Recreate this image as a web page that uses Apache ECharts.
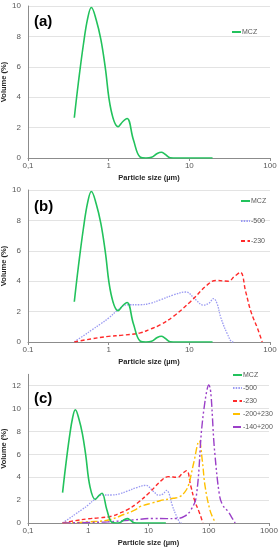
<!DOCTYPE html>
<html><head><meta charset="utf-8">
<script src="https://cdn.jsdelivr.net/npm/echarts@6/dist/echarts.min.js"></script>
<style>html,body{margin:0;padding:0;background:#fff}#c{width:280px;height:550px}</style>
</head><body><div id="c"></div>
<script>
// ---- data (particle size in µm, volume in %) ----
const mczSize  = [0.375,0.42,0.487,0.55,0.61,0.7,0.8,0.905,1.07,1.31,1.5,1.69,2.03,2.47,2.9,3.4,4.0,4.5,5.0,5.8,7,10,19.4];
const mczVol   = [2.65,4.9,7.5,9.2,9.9,9.1,7.8,6.0,3.16,2.06,2.4,2.6,1.18,0.05,0,0.05,0.3,0.38,0.25,0.02,0,0,0];
const m500Size = [0.375,0.5,0.62,0.8,1.0,1.3,1.7,2.47,3.3,4.4,6.4,9,12,14.8,17.5,20,22,24.6,29.8,34.4,36];
const m500Vol  = [0.02,0.45,0.8,1.2,1.58,2.1,2.45,2.45,2.55,2.78,3.1,3.29,2.78,2.43,2.55,2.85,2.55,1.6,0.5,0,0];
const m230Size = [0.375,0.6,1.0,1.5,2.47,3.3,4.4,6.4,10.4,16.8,21.3,30.5,36,42.9,50,58,70,80];
const m230Vol  = [0,0.2,0.37,0.45,0.6,0.85,1.14,1.7,2.67,3.77,4.05,4.0,4.3,4.58,3.3,2.0,0.9,0];
const f200Size = [0.375,0.6,1,2.15,4.1,6,7.2,12,15.5,25.8,33,40,46,56,69.5,78,87,105,120,132];
const f200Vol  = [0,0.03,0.1,0.26,0.79,1.14,1.43,1.78,1.95,2.16,2.3,2.7,3.3,5.2,7.17,5.5,3.2,1.1,0.35,0];
const f140Size = [0.375,1,2.1,5.3,12,20,30,40,50,62,79,100,126,150,170,210,240,274];
const f140Vol  = [0,0.05,0.1,0.26,0.4,0.38,0.4,0.6,1.1,2.3,9,12.06,6.1,2.5,1.57,1.0,0.5,0];
const panelLabels = ['(a)','(b)','(c)'];
const seriesNames = ['MCZ','-500','-230','-200+230','-140+200'];
const yTicksAB = [0,2,4,6,8,10];
const yTicksC  = [0,2,4,6,8,10,12];

const pairs = (xs, ys) => xs.map((x, i) => [x, ys[i]]);
const styles = {
  'MCZ':      {color:'#22c25c', width:1.6, type:'solid'},
  '-500':     {color:'#9a9af2', width:1.3, type:[1.5,1.2]},
  '-230':     {color:'#ff2a2a', width:1.4, type:[4,2.5]},
  '-200+230': {color:'#ffc000', width:1.4, type:[7,2.5,2,2.5]},
  '-140+200': {color:'#9b40c8', width:1.4, type:[8,2.5,2,2.5,2,2.5]}
};
const dataByName = {
  'MCZ': pairs(mczSize, mczVol),
  '-500': pairs(m500Size, m500Vol),
  '-230': pairs(m230Size, m230Vol),
  '-200+230': pairs(f200Size, f200Vol),
  '-140+200': pairs(f140Size, f140Vol)
};

const grids = [
  {left:28, right:10, top:6, height:152, outerBoundsMode:'none', containLabel:false},
  {left:28, right:10, top:190, height:152, outerBoundsMode:'none', containLabel:false},
  {left:28, right:11, top:374.3, height:148.7, outerBoundsMode:'none', containLabel:false}
];
const xMax = [100,100,1000];
const commaDec = [true,false,true];
const FF = 'Liberation Sans, Arial, sans-serif';
const axisFont = {fontFamily:FF, fontSize:8, color:'#595959'};
const nameFont = {fontFamily:FF, fontSize:7.5, fontWeight:'bold', color:'#262626'};

const xAxes = grids.map((g, i) => ({
  type:'log', logBase:10, gridIndex:i, min:0.1, max:xMax[i],
  name:'Particle size (µm)', nameLocation:'middle', nameGap:16, nameTextStyle:nameFont, nameMoveOverlap:false,
  axisLine:{show:true, onZero:false, lineStyle:{color:'#8c8c8c', width:1}},
  axisTick:{show:true, length:3, lineStyle:{color:'#8c8c8c'}},
  minorTick:{show:false}, splitLine:{show:false},
  axisLabel:Object.assign({margin:4, formatter:v => (v < 0.5 ? (commaDec[i] ? '0,1' : '0.1') : String(Math.round(v)))}, axisFont)
}));
const yAxes = grids.map((g, i) => ({
  type:'value', gridIndex:i, min:0, max:(i === 2 ? 13 : 10), interval:2,
  name:'Volume (%)', nameLocation:'middle', nameGap:20, nameTextStyle:nameFont, nameMoveOverlap:false,
  axisLine:{show:true, lineStyle:{color:'#8c8c8c', width:1}},
  axisTick:{show:false},
  splitLine:{show:true, showMaxLine:(i !== 2), lineStyle:{color:'#e3e3e3', width:1}},
  axisLabel:Object.assign({margin:7, showMaxLabel:(i !== 2),
    formatter:v => ((i === 2 ? yTicksC : yTicksAB).indexOf(v) >= 0 ? String(v) : '')}, axisFont)
}));

const panelSeries = [['MCZ'], ['MCZ','-500','-230'], seriesNames];
const series = [];
panelSeries.forEach((names, p) => {
  names.forEach(n => {
    const s = styles[n];
    series.push({
      name:n, type:'line', xAxisIndex:p, yAxisIndex:p, data:dataByName[n],
      smooth:0.4, symbol:'none', showSymbol:false,
      lineStyle:{color:s.color, width:s.width, type:s.type}, itemStyle:{color:s.color},
      z: (n === 'MCZ' ? 5 : 3), animation:false
    });
  });
});

const legends = [
  {left:231, top:27, itemGap:10, data:panelSeries[0]},
  {left:240, top:196, itemGap:10, data:panelSeries[1]},
  {left:232, top:370, itemGap:3, data:panelSeries[2]}
].map(l => Object.assign({
  orient:'vertical', itemWidth:9, itemHeight:6, padding:0, selectedMode:false,
  itemStyle:{opacity:0, borderWidth:0},
  textStyle:{fontFamily:FF, fontSize:7, color:'#595959', lineHeight:10, padding:[0,0,0,-4]}
}, l));

const titles = [
  {text:panelLabels[0], left:34, top:14},
  {text:panelLabels[1], left:34, top:199},
  {text:panelLabels[2], left:34, top:391}
].map(t => Object.assign({padding:0, textStyle:{fontFamily:FF, fontSize:15, fontWeight:'bold', color:'#000'}}, t));

const chart = echarts.init(document.getElementById('c'), null, {renderer:'canvas'});
chart.setOption({
  animation:false,
  title:titles, legend:legends, grid:grids, xAxis:xAxes, yAxis:yAxes, series:series
});
</script></body></html>
